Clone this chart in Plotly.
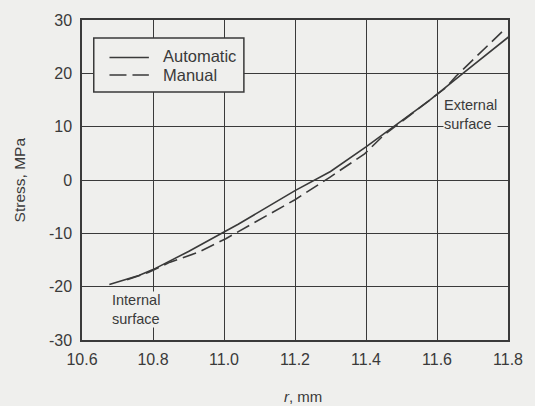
import plotly.graph_objects as go

# Data
r_auto = [10.677, 10.76, 10.80, 10.90, 11.00, 11.04, 11.20, 11.30, 11.40, 11.488, 11.576, 11.673, 11.803]
s_auto = [-19.6, -17.9, -16.8, -13.4, -9.75, -8.3, -2.0, 1.6, 6.2, 10.5, 14.8, 20.0, 26.9]

r_man = [10.727, 10.788, 10.848, 10.926, 11.005, 11.10, 11.20, 11.30, 11.396, 11.45, 11.55, 11.623, 11.654, 11.709, 11.788]
s_man = [-18.7, -17.3, -15.4, -13.6, -11.0, -7.4, -3.7, 0.6, 4.9, 8.4, 13.5, 17.2, 19.5, 23.1, 28.1]

x_ticks = [10.6, 10.8, 11.0, 11.2, 11.4, 11.6, 11.8]
y_ticks = [-30, -20, -10, 0, 10, 20, 30]
legend_names = ["Automatic", "Manual"]

bg = "#efefed"
ink = "#3a3a3a"
font = "Liberation Sans, Arial, sans-serif"

fig = go.Figure()
fig.add_trace(go.Scatter(x=r_auto, y=s_auto, mode="lines", name=legend_names[0],
                         line=dict(color=ink, width=1.6), showlegend=False))
fig.add_trace(go.Scatter(x=r_man, y=s_man, mode="lines", name=legend_names[1],
                         line=dict(color=ink, width=1.6, dash="14px,6px"), showlegend=False))

axis_common = dict(showgrid=True, gridcolor=ink, gridwidth=1, showline=True,
                   linecolor=ink, linewidth=1.5, mirror=True, zeroline=False,
                   ticks="", tickfont=dict(family=font, size=16, color=ink))
fig.update_xaxes(range=[10.6, 11.8], tickvals=x_ticks,
                 ticktext=[f"{v:.1f}" for v in x_ticks], ticklabelstandoff=4, **axis_common)
fig.update_yaxes(range=[-30, 30], tickvals=y_ticks,
                 ticktext=[str(v) for v in y_ticks], ticklabelstandoff=5, **axis_common)

# Curve labels
fig.add_annotation(x=10.683, y=-20.9, xref="x", yref="y", xanchor="left", yanchor="top",
                   text="Internal<br>surface", showarrow=False, align="left",
                   bgcolor=bg, borderpad=0, font=dict(family=font, size=14.5, color=ink))
fig.add_annotation(x=11.617, y=15.8, xref="x", yref="y", xanchor="left", yanchor="top",
                   text="External<br>surface", showarrow=False, align="left",
                   bgcolor=bg, borderpad=0, font=dict(family=font, size=14.5, color=ink))

# Axis titles
fig.add_annotation(x=-0.147, y=0.5, xref="paper", yref="paper", textangle=-90,
                   xanchor="center", yanchor="middle",
                   text="Stress, MPa", showarrow=False,
                   font=dict(family=font, size=15.5, color=ink))
fig.add_annotation(x=0.518, y=-0.176, xref="paper", yref="paper", yanchor="middle",
                   text="<i>r</i>, mm", showarrow=False,
                   font=dict(family=font, size=15, color=ink))

# Legend drawn as box + line samples + labels
fig.add_shape(type="rect", xref="paper", yref="paper", x0=0.0276, x1=0.380, y0=0.775, y1=0.944,
              line=dict(color=ink, width=1.5), fillcolor=bg, layer="above")
fig.add_shape(type="line", xref="paper", yref="paper", x0=0.0645, x1=0.157, y0=0.883, y1=0.883,
              line=dict(color=ink, width=1.6), layer="above")
fig.add_shape(type="line", xref="paper", yref="paper", x0=0.0645, x1=0.157, y0=0.828, y1=0.828,
              line=dict(color=ink, width=1.6, dash="17px,6px"), layer="above")
fig.add_annotation(x=0.185, y=0.886, xref="paper", yref="paper", xanchor="left", yanchor="middle",
                   text=legend_names[0], showarrow=False,
                   font=dict(family=font, size=16.5, color=ink))
fig.add_annotation(x=0.185, y=0.828, xref="paper", yref="paper", xanchor="left", yanchor="middle",
                   text=legend_names[1], showarrow=False,
                   font=dict(family=font, size=16.5, color=ink))

fig.update_layout(
    width=535, height=406,
    margin=dict(l=82, r=19, t=16, b=66),
    paper_bgcolor=bg, plot_bgcolor=bg,
    showlegend=False,
)

fig.write_html("out.html", config={"displayModeBar": False},
               post_script="document.body.style.margin='0px';")
